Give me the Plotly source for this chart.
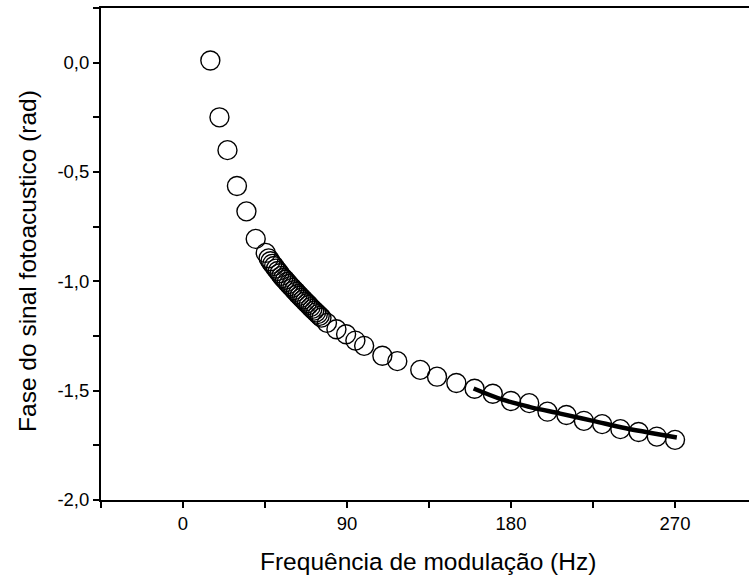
import plotly.graph_objects as go

# Measured phase data (Hz, rad)
freq = [15, 20, 24.4, 29.6, 34.8, 39.9, 45.4,
        47, 48, 49, 50, 51, 52, 53, 54, 55, 56, 57, 58, 59, 60,
        61, 62, 63, 64, 65, 66, 67, 68, 69, 70, 71, 72, 73, 74, 75, 76,
        79, 84.2, 89.5, 94.6, 99.4, 109.4, 117.6, 130.2, 139.4, 150,
        160, 170, 180, 190, 200, 210.4, 220, 230, 240, 250, 260, 270]
phase = [0.01, -0.25, -0.40, -0.564, -0.68, -0.806, -0.87,
         -0.895, -0.908, -0.92, -0.93, -0.942, -0.953, -0.963, -0.975, -0.985, -0.993,
         -1.003, -1.012, -1.022, -1.03, -1.04, -1.048, -1.058, -1.066, -1.075, -1.083,
         -1.092, -1.10, -1.108, -1.118, -1.126, -1.134, -1.142, -1.15, -1.158, -1.166,
         -1.19, -1.219, -1.242, -1.271, -1.295, -1.34, -1.365, -1.405, -1.436, -1.465,
         -1.491, -1.514, -1.547, -1.557, -1.596, -1.611, -1.638, -1.653, -1.676, -1.689,
         -1.71, -1.725]

# Fitted curve
fit_x = [159.5, 175, 190, 207, 225, 243, 260, 271]
fit_y = [-1.49, -1.54, -1.574, -1.605, -1.638, -1.672, -1.698, -1.714]

x_ticks = [0, 90, 180, 270]
y_ticks = [0, -0.5, -1.0, -1.5, -2.0]
y_ticktext = ["0,0", "-0,5", "-1,0", "-1,5", "-2,0"]

FONT = "Liberation Sans, Arial, sans-serif"

fig = go.Figure()
fig.add_trace(go.Scatter(
    x=freq, y=phase, mode="markers",
    marker=dict(symbol="circle-open", size=19, color="black", line=dict(width=1.4)),
    showlegend=False))
fig.add_trace(go.Scatter(
    x=fit_x, y=fit_y, mode="lines", line=dict(color="black", width=4.5, shape="spline"),
    showlegend=False))

axis_common = dict(showgrid=False, zeroline=False, showline=True, linecolor="black",
                   linewidth=2, ticks="outside", ticklen=6, tickwidth=2, tickcolor="black",
                   tickfont=dict(family=FONT, size=18.5, color="black"))

fig.update_xaxes(range=[-45, 310.6], tickvals=x_ticks, ticktext=[str(v) for v in x_ticks],
                 mirror=True,
                 minor=dict(dtick=45, tick0=45, ticks="outside", ticklen=6, tickwidth=2,
                            tickcolor="black", showgrid=False),
                 **axis_common)
fig.update_yaxes(range=[-2.0, 0.25], tickvals=y_ticks, ticktext=y_ticktext,
                 mirror=False,
                 minor=dict(dtick=0.25, tick0=0, ticks="outside", ticklen=6, tickwidth=2,
                            tickcolor="black", showgrid=False),
                 **axis_common)

fig.update_layout(
    width=749, height=579,
    margin=dict(l=101, r=0, t=8, b=79),
    paper_bgcolor="white", plot_bgcolor="white",
    font=dict(family=FONT, color="black"),
    annotations=[
        dict(text="Frequência de modulação (Hz)", xref="paper", yref="paper",
             x=0.5046, y=-0.126, xanchor="center", yanchor="middle", showarrow=False,
             font=dict(size=24.5, family=FONT, color="black")),
        dict(text="Fase do sinal fotoacustico (rad)", xref="paper", yref="paper",
             x=-0.1127, y=0.4858, xanchor="center", yanchor="middle", textangle=-90,
             showarrow=False, font=dict(size=24.5, family=FONT, color="black")),
    ],
)

fig.write_html("out.html")
